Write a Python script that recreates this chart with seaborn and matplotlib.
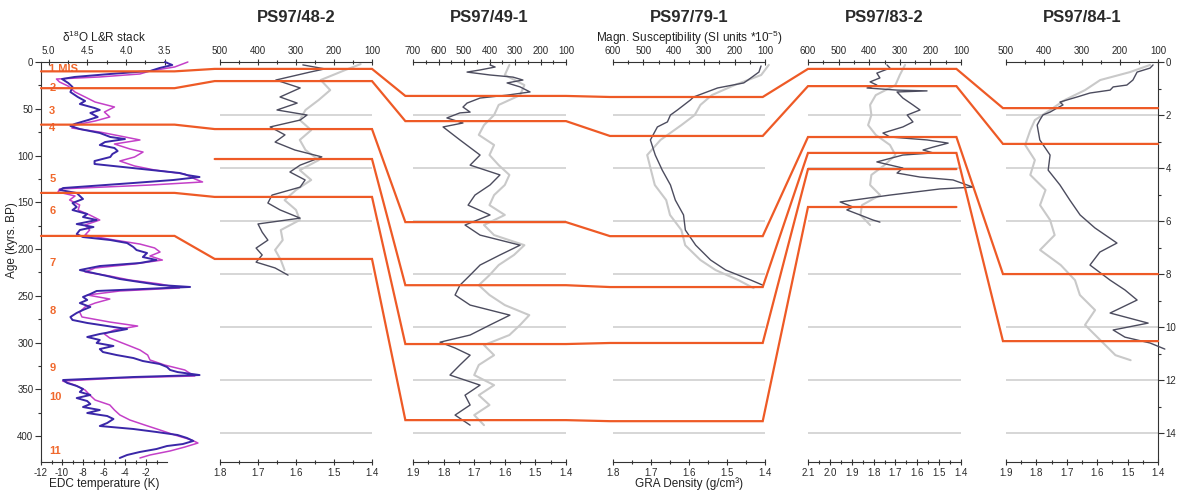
import matplotlib
matplotlib.use("Agg")
import matplotlib.pyplot as plt
import matplotlib.transforms as mtransforms
from matplotlib.lines import Line2D
from matplotlib.ticker import FixedLocator, FormatStrFormatter
import seaborn as sns

# ---------------------------------------------------------------------------
# EDC temperature anomaly (K) and LR04 benthic d18O stack against age (kyr BP)
# ---------------------------------------------------------------------------
edc_age = [0.0, 3.2, 6.4, 9.6, 12.8, 16.0, 18.2, 22.5, 26.7, 32.1,
           37.4, 41.7, 44.9, 49.2, 51.3, 54.5, 58.8, 62.0, 66.3, 68.4,
           71.7, 75.9, 80.2, 82.4, 85.6, 88.8, 92.0, 95.2, 98.4, 101.6,
           105.9, 109.1, 112.3, 115.5, 118.7, 120.9, 123.0, 126.2, 129.4, 134.8,
           136.9, 140.1, 143.3, 146.5, 150.8, 155.1, 158.3, 162.6, 165.8, 169.0,
           173.3, 176.5, 179.7, 184.0, 187.2, 190.4, 193.6, 197.9, 201.1, 204.3,
           208.6, 211.8, 215.0, 218.2, 222.5, 225.7, 228.9, 232.1, 235.3, 238.5,
           240.6, 242.8, 244.9, 248.1, 251.3, 254.5, 257.8, 262.0, 265.2, 268.4,
           272.7, 275.9, 279.1, 282.4, 285.6, 287.7, 290.9, 294.1, 297.3, 300.5,
           303.7, 307.0, 310.2, 313.4, 316.6, 319.8, 323.0, 326.2, 329.4, 331.6,
           334.8, 336.9, 340.1, 343.3, 346.5, 349.7, 352.9, 356.1, 359.4, 362.6,
           365.8, 369.0, 372.2, 375.4, 378.6, 381.8, 386.1, 389.3, 392.5, 395.7,
           398.9, 402.1, 405.3, 408.6, 410.7, 413.9, 417.1, 420.3, 423.5]
edc_temp = [-0.2, 0.5, -0.7, -1.6, -5.4, -8.8, -10.0, -9.4, -9.0, -9.2,
            -8.5, -7.8, -8.3, -6.9, -6.4, -7.3, -6.6, -7.5, -8.8, -9.2,
            -8.3, -6.4, -5.4, -4.0, -5.9, -6.4, -5.0, -4.7, -5.2, -5.4,
            -6.9, -6.9, -4.2, -1.6, 1.2, 1.9, 3.1, 0.6, -3.2, -9.9,
            -10.2, -8.6, -8.3, -8.0, -9.0, -8.6, -9.0, -7.6, -8.0, -6.7,
            -8.6, -7.0, -8.3, -8.6, -8.0, -5.4, -3.8, -3.2, -2.9, -1.9,
            -2.3, -1.0, -2.6, -6.4, -8.3, -7.0, -5.7, -4.5, -2.6, -0.7,
            2.2, -2.3, -6.7, -7.3, -8.0, -7.6, -8.3, -7.3, -8.0, -8.6,
            -9.2, -9.0, -7.6, -5.7, -3.8, -4.8, -6.4, -7.6, -6.4, -6.7,
            -5.1, -6.4, -6.1, -4.8, -3.2, -2.3, -0.7, 0.0, 0.3, 1.0,
            3.1, -3.2, -9.9, -9.5, -8.6, -8.0, -8.3, -7.3, -8.6, -7.6,
            -7.3, -8.0, -6.4, -7.6, -5.7, -5.1, -5.7, -6.4, -3.2, -1.0,
            1.0, 1.9, 2.5, 1.5, 0.0, -1.0, -2.6, -3.8, -4.5]

lr04_age = [0.0, 5.3, 9.6, 12.8, 16.0, 18.2, 21.4, 25.7, 32.1, 37.4,
            42.8, 48.1, 53.5, 58.8, 63.1, 67.4, 70.6, 74.9, 79.1, 83.4,
            87.7, 93.0, 96.3, 101.6, 105.9, 111.2, 115.5, 119.8, 125.1, 128.3,
            131.6, 135.8, 139.0, 143.3, 147.6, 152.9, 158.3, 163.6, 169.0, 174.3,
            179.7, 185.0, 190.4, 194.7, 198.9, 203.2, 207.5, 211.8, 216.0, 220.3,
            224.6, 228.9, 233.2, 237.4, 241.7, 244.9, 249.2, 253.5, 257.8, 262.0,
            267.4, 272.7, 278.1, 282.4, 286.6, 290.9, 295.2, 299.5, 303.7, 308.0,
            313.4, 318.7, 324.1, 329.4, 332.6, 335.8, 338.0, 341.2, 345.5, 350.8,
            356.1, 361.5, 366.8, 372.2, 377.5, 382.9, 388.2, 393.6, 398.9, 404.3,
            407.5, 411.8, 416.0, 420.3, 423.5]
lr04_d18o = [3.20, 3.37, 3.69, 3.82, 4.34, 4.90, 4.86, 4.75, 4.66, 4.53,
             4.40, 4.15, 4.28, 4.21, 4.40, 4.66, 4.70, 4.34, 4.08, 3.82,
             4.15, 3.95, 3.78, 3.89, 4.08, 3.89, 3.63, 3.24, 3.11, 3.01,
             3.69, 4.86, 4.88, 4.66, 4.73, 4.60, 4.62, 4.47, 4.34, 4.53,
             4.47, 4.53, 4.15, 3.82, 3.63, 3.56, 3.69, 3.53, 3.89, 4.40,
             4.53, 4.21, 3.95, 3.56, 3.31, 4.08, 4.50, 4.21, 4.40, 4.53,
             4.60, 4.57, 4.21, 3.85, 4.15, 4.28, 4.21, 4.08, 3.95, 3.82,
             3.72, 3.69, 3.50, 3.24, 3.18, 3.11, 4.08, 4.82, 4.66, 4.53,
             4.47, 4.40, 4.21, 4.15, 4.08, 3.95, 3.76, 3.56, 3.37, 3.15,
             3.07, 3.24, 3.43, 3.69, 3.82]

edc_ticks = [-12, -10, -8, -6, -4, -2]
edc_minor = [-11, -9, -7, -5, -3, -1]
d18o_ticks = [5.0, 4.5, 4.0, 3.5]
age_ticks = [0, 50, 100, 150, 200, 250, 300, 350, 400]

mis_labels = ["1 MIS", "2", "3", "4", "5", "6", "7", "8", "9", "10", "11"]
mis_label_age = [7.5, 28, 52, 71, 125, 159, 215, 266, 327, 358, 416]

# ---------------------------------------------------------------------------
# Core logs: magnetic susceptibility (SI*10^-5) and GRA density (g/cm3) vs depth (m)
# ---------------------------------------------------------------------------
ps48_ms_depth = [0.11, 0.26, 0.38, 0.68, 0.98, 1.32, 1.55, 1.81, 2.0, 2.19, 2.45, 2.75,
                 3.02, 3.32, 3.58, 3.89, 4.15, 4.45, 4.72, 5.02, 5.32, 5.58, 5.89, 6.11,
                 6.42, 6.72, 7.02, 7.28, 7.55, 7.77, 8.04]
ps48_ms = [282, 224, 263, 353, 289, 342, 297, 350, 271, 289, 368, 329, 355, 303, 232,
           289, 316, 276, 289, 363, 374, 342, 289, 400, 389, 374, 405, 389, 405, 355, 321]
ps48_gra_depth = [0.08, 0.30, 0.68, 1.06, 1.43, 1.81, 2.19, 2.57, 2.94, 3.32, 3.70,
                  4.08, 4.45, 4.83, 5.21, 5.58, 5.96, 6.34, 6.72, 7.09, 7.47, 7.85]
ps48_gra = [1.43, 1.47, 1.535, 1.51, 1.54, 1.575, 1.59, 1.56, 1.59, 1.575, 1.54,
            1.59, 1.56, 1.60, 1.63, 1.60, 1.59, 1.64, 1.635, 1.655, 1.64, 1.63]
ps48_ms_ticks = [500, 400, 300, 200, 100]
ps48_gra_ticks = [1.8, 1.7, 1.6, 1.5, 1.4]

ps49_ms_depth = [0.11, 0.19, 0.30, 0.38, 0.49, 0.57, 0.68, 0.79, 0.94, 1.13,
                 1.25, 1.36, 1.55, 1.70, 1.89, 1.92, 2.11, 2.30, 2.45, 2.94,
                 3.51, 3.89, 4.26, 4.64, 5.02, 5.40, 5.77, 6.15, 6.53, 6.91,
                 7.28, 7.66, 8.04, 8.42, 8.79, 9.17, 9.55, 9.92, 10.30, 10.57,
                 10.79, 11.06, 11.43, 11.81, 12.19, 12.57, 12.94, 13.32, 13.70]
ps49_ms = [398, 378, 437, 488, 398, 308, 269, 331, 280, 241,
           331, 437, 488, 504, 476, 516, 567, 504, 582, 516,
           437, 476, 359, 398, 457, 484, 398, 496, 437, 280,
           359, 437, 476, 516, 535, 476, 320, 398, 476, 594,
           535, 476, 516, 555, 437, 496, 476, 535, 476]
ps49_gra_depth = [0.11, 0.49, 0.87, 1.25, 1.62, 2.0, 2.38, 2.75, 3.13, 3.51,
                  3.89, 4.26, 4.64, 5.02, 5.40, 5.77, 6.15, 6.53, 6.91, 7.28,
                  7.66, 8.04, 8.42, 8.79, 9.17, 9.55, 9.92, 10.30, 10.68, 11.06,
                  11.43, 11.81, 12.19, 12.57, 12.94, 13.32, 13.70]
ps49_gra = [1.585, 1.60, 1.536, 1.55, 1.62, 1.635, 1.668, 1.685, 1.635, 1.65,
            1.62, 1.585, 1.60, 1.635, 1.65, 1.60, 1.668, 1.635, 1.536, 1.57,
            1.62, 1.65, 1.685, 1.65, 1.60, 1.52, 1.55, 1.585, 1.668, 1.635,
            1.685, 1.70, 1.635, 1.685, 1.65, 1.70, 1.668]
ps49_ms_ticks = [700, 600, 500, 400, 300, 200, 100]
ps49_gra_ticks = [1.9, 1.8, 1.7, 1.6, 1.5, 1.4]

ps79_ms_depth = [0.15, 0.38, 0.68, 0.79, 0.98, 1.32, 1.43, 1.81, 2.0, 2.26, 2.45, 2.94,
                 3.51, 4.08, 4.64, 5.21, 5.77, 6.34, 6.91, 7.47, 7.85, 8.23, 8.42]
ps79_ms = [113, 120, 156, 170, 256, 335, 345, 388, 411, 421, 454, 477,
           461, 438, 411, 395, 368, 362, 328, 279, 229, 146, 107]
ps79_gra_depth = [0.11, 0.49, 0.87, 1.25, 1.62, 2.0, 2.38, 2.94, 3.51, 4.08,
                  4.64, 5.21, 5.77, 6.34, 6.91, 7.47, 7.85, 8.23, 8.53]
ps79_gra = [1.39, 1.41, 1.48, 1.54, 1.57, 1.585, 1.62, 1.675, 1.71, 1.70,
            1.69, 1.66, 1.65, 1.62, 1.61, 1.57, 1.53, 1.47, 1.43]
ps79_ms_ticks = [600, 500, 400, 300, 200, 100]
ps79_gra_ticks = [1.8, 1.7, 1.6, 1.5, 1.4]

ps83_ms_depth = [0.11, 0.23, 0.42, 0.60, 0.75, 0.87, 0.98, 1.06, 1.09, 1.13,
                 1.36, 1.62, 1.81, 2.0, 2.26, 2.45, 2.68, 2.83, 2.94, 3.06,
                 3.21, 3.32, 3.43, 3.51, 3.77, 4.0, 4.19, 4.34, 4.45, 4.72,
                 4.79, 5.02, 5.28, 5.47, 5.58, 5.77, 5.96, 6.04]
ps83_ms = [342, 332, 375, 365, 397, 375, 407, 309, 211, 309,
           290, 257, 234, 276, 257, 290, 355, 332, 211, 142,
           191, 224, 191, 290, 375, 290, 309, 234, 126, 61,
           169, 332, 495, 453, 473, 430, 388, 365]
ps83_gra_depth = [0.11, 0.49, 0.87, 1.25, 1.62, 2.0, 2.38, 2.75, 3.13, 3.51,
                  3.89, 4.26, 4.64, 5.02, 5.40, 5.77, 6.15]
ps83_gra = [1.656, 1.68, 1.70, 1.79, 1.816, 1.81, 1.825, 1.79, 1.725, 1.70,
            1.75, 1.81, 1.816, 1.77, 1.853, 1.86, 1.816]
ps83_ms_ticks = [600, 500, 400, 300, 200, 100]
ps83_gra_ticks = [2.1, 2.0, 1.9, 1.8, 1.7, 1.6, 1.5, 1.4]

ps84_ms_depth = [0.11, 0.23, 0.38, 0.68, 0.87, 0.94, 1.06, 1.17, 1.32, 1.43,
                 1.51, 1.62, 1.74, 1.89, 2.0, 2.19, 2.38, 2.94, 3.51, 4.08,
                 4.64, 5.21, 5.77, 6.26, 6.83, 7.17, 7.66, 8.23, 8.60, 8.98,
                 9.47, 9.85, 10.11, 10.38, 10.60, 10.83]
ps84_ms = [113, 121, 155, 166, 182, 218, 226, 279, 313, 339,
           358, 350, 366, 384, 403, 411, 418, 411, 384, 389,
           358, 332, 305, 266, 208, 253, 279, 226, 187, 155,
           226, 126, 218, 187, 121, 82]
ps84_gra_depth = [0.11, 0.38, 0.68, 1.06, 1.43, 1.81, 2.19, 2.57, 3.13, 3.70, 4.26, 4.83,
                  5.40, 5.96, 6.53, 7.09, 7.66, 8.23, 8.79, 9.36, 9.92, 10.49, 11.06, 11.25]
ps84_gra = [1.426, 1.492, 1.59, 1.64, 1.706, 1.755, 1.805, 1.82, 1.837, 1.805, 1.82, 1.77,
            1.788, 1.755, 1.74, 1.788, 1.72, 1.673, 1.657, 1.607, 1.64, 1.59, 1.54, 1.49]
ps84_ms_ticks = [500, 400, 300, 200, 100]
ps84_gra_ticks = [1.9, 1.8, 1.7, 1.6, 1.5, 1.4]

depth_ticks = [0, 2, 4, 6, 8, 10, 12, 14]
section_depths = [2, 4, 6, 8, 10, 12, 14]

# Stratigraphic tie points (MIS boundary age in kyr, then depth in each core, m)
mis_boundary_age = [10, 28, 67, None, 140, 186]
tie_ps48 = [0.26, 0.72, 2.53, 3.66, 5.09, 7.43]
tie_ps49 = [1.28, 2.23, 6.04, 8.42, 10.64, 13.51]
tie_ps79 = [1.32, 2.79, 6.57, 8.49, 10.60, 13.55]
tie_ps83 = [0.26, 0.91, 2.83, 3.43, 4.04, 5.47]
tie_ps84 = [1.74, 3.09, 8.00, 10.53, None, None]

cores = [
    dict(name="PS97/48-2", ms_depth=ps48_ms_depth, ms=ps48_ms, gra_depth=ps48_gra_depth,
         gra=ps48_gra, ms_ticks=ps48_ms_ticks, gra_ticks=ps48_gra_ticks),
    dict(name="PS97/49-1", ms_depth=ps49_ms_depth, ms=ps49_ms, gra_depth=ps49_gra_depth,
         gra=ps49_gra, ms_ticks=ps49_ms_ticks, gra_ticks=ps49_gra_ticks),
    dict(name="PS97/79-1", ms_depth=ps79_ms_depth, ms=ps79_ms, gra_depth=ps79_gra_depth,
         gra=ps79_gra, ms_ticks=ps79_ms_ticks, gra_ticks=ps79_gra_ticks),
    dict(name="PS97/83-2", ms_depth=ps83_ms_depth, ms=ps83_ms, gra_depth=ps83_gra_depth,
         gra=ps83_gra, ms_ticks=ps83_ms_ticks, gra_ticks=ps83_gra_ticks),
    dict(name="PS97/84-1", ms_depth=ps84_ms_depth, ms=ps84_ms, gra_depth=ps84_gra_depth,
         gra=ps84_gra, ms_ticks=ps84_ms_ticks, gra_ticks=ps84_gra_ticks),
]

# ---------------------------------------------------------------------------
# Style
# ---------------------------------------------------------------------------
sns.set_theme(style="white")
plt.rcParams["font.family"] = ["Liberation Sans", "DejaVu Sans"]
plt.rcParams["mathtext.fontset"] = "custom"
plt.rcParams["mathtext.rm"] = "Liberation Sans"
plt.rcParams["mathtext.it"] = "Liberation Sans:italic"
plt.rcParams["mathtext.bf"] = "Liberation Sans:bold"
plt.rcParams["axes.unicode_minus"] = False

ORANGE = "#ee5a26"
MIS_TEXT = "#f0682c"
BLUE = "#3a27a8"
MAGENTA = "#c440c8"
DARK = "#4c4c5e"
LIGHT = "#c9c9c9"
SECTION = "#d0d0d0"
INK = "#333333"

FIG_W, FIG_H = 1177, 492
PLOT_TOP, PLOT_BOTTOM = 62, 462
LEFT_COLUMN = (41, 167)
CORE_COLUMNS = [(220, 372), (413, 566), (613, 765), (808, 961), (1006, 1158)]
TIE_SPANS = [(0.0, 1.06), (-0.035, 1.0), (-0.05, 1.0), (-0.02, 0.985), (0.0, 0.97), (-0.02, 1.0)]


def column_rect(x0, x1):
    return [x0 / FIG_W, 1 - PLOT_BOTTOM / FIG_H,
            (x1 - x0) / FIG_W, (PLOT_BOTTOM - PLOT_TOP) / FIG_H]


def midpoints(ticks):
    return [(a + b) / 2 for a, b in zip(ticks[:-1], ticks[1:])]


def dress_x(ax, side, majors, minors, fmt):
    ax.xaxis.set_major_locator(FixedLocator(majors))
    ax.xaxis.set_minor_locator(FixedLocator(minors))
    ax.xaxis.set_major_formatter(FormatStrFormatter(fmt))
    top = side == "top"
    ax.tick_params(axis="x", which="both", direction="inout", color=INK, width=0.8,
                   top=top, bottom=not top, labeltop=top, labelbottom=not top,
                   labelsize=7, labelcolor="#2a2a2a", pad=1.5)
    ax.tick_params(axis="x", which="major", length=5)
    ax.tick_params(axis="x", which="minor", length=2.5)
    for name, sp in ax.spines.items():
        sp.set_visible(name == side)
        sp.set_color(INK)
        sp.set_linewidth(0.8)
    ax.set_xlabel("")
    ax.set_ylabel("")


def dress_y(ax, side, majors, minors):
    ax.yaxis.set_major_locator(FixedLocator(majors))
    ax.yaxis.set_minor_locator(FixedLocator(minors))
    ax.yaxis.set_major_formatter(FormatStrFormatter("%d"))
    left = side == "left"
    ax.tick_params(axis="y", which="both", direction="out", color=INK, width=0.8,
                   left=left, right=not left, labelleft=left, labelright=not left,
                   labelsize=7, labelcolor="#2a2a2a", pad=1.5)
    ax.tick_params(axis="y", which="major", length=4)
    ax.tick_params(axis="y", which="minor", length=2.5)
    ax.spines[side].set_visible(True)
    ax.spines[side].set_color(INK)
    ax.spines[side].set_linewidth(0.8)


fig = plt.figure(figsize=(FIG_W / 100, FIG_H / 100), dpi=100)
fig.patch.set_facecolor("white")

# ---------------------------------------------------------------------------
# Climate reference panel
# ---------------------------------------------------------------------------
ax0 = fig.add_axes(column_rect(*LEFT_COLUMN))
ax0t = ax0.twiny()
sns.lineplot(x=lr04_d18o, y=lr04_age, ax=ax0t, sort=False, estimator=None,
             color=MAGENTA, linewidth=1.1, clip_on=False)
sns.lineplot(x=edc_temp, y=edc_age, ax=ax0, sort=False, estimator=None,
             color=BLUE, linewidth=1.4, clip_on=False)
ax0t.set_zorder(ax0.get_zorder() - 1)
ax0.patch.set_visible(False)

ax0.set_xlim(-12, 0)
ax0t.set_xlim(5.10, 3.47)
ax0.set_ylim(427.8, 0)
dress_x(ax0, "bottom", edc_ticks, edc_minor, "%d")
dress_x(ax0t, "top", d18o_ticks, midpoints(d18o_ticks), "%.1f")
dress_y(ax0, "left", age_ticks, midpoints(age_ticks))

ax0.text(0.5, 1.0625, "δ$^{18}$O L&R stack", transform=ax0.transAxes,
         ha="center", va="center", fontsize=8.5, color="#222222")
ax0.text(0.5, -0.055, "EDC temperature (K)", transform=ax0.transAxes,
         ha="center", va="center", fontsize=8.5, color="#222222")
ax0.text(-0.23, 0.555, "Age (kyrs. BP)", transform=ax0.transAxes, rotation=90,
         ha="center", va="center", fontsize=8.5, color="#222222")

mis_tr = mtransforms.blended_transform_factory(ax0.transAxes, ax0.transData)
for label, age in zip(mis_labels, mis_label_age):
    ax0.text(0.065, age, label, transform=mis_tr, ha="left", va="center",
             fontsize=8, fontweight="bold", color=MIS_TEXT, zorder=6)

# ---------------------------------------------------------------------------
# Core panels
# ---------------------------------------------------------------------------
core_axes = []
for k, core in enumerate(cores):
    ax = fig.add_axes(column_rect(*CORE_COLUMNS[k]))
    axt = ax.twiny()
    for d in section_depths:
        ax.axhline(d, color=SECTION, linewidth=1.2, zorder=0.5)
    sns.lineplot(x=core["gra"], y=core["gra_depth"], ax=ax, sort=False, estimator=None,
                 color=LIGHT, linewidth=1.5, clip_on=False)
    sns.lineplot(x=core["ms"], y=core["ms_depth"], ax=axt, sort=False, estimator=None,
                 color=DARK, linewidth=1.0, clip_on=False)
    ax.set_xlim(core["gra_ticks"][0], core["gra_ticks"][-1])
    axt.set_xlim(core["ms_ticks"][0], core["ms_ticks"][-1])
    ax.set_ylim(15.09, 0)
    dress_x(ax, "bottom", core["gra_ticks"], midpoints(core["gra_ticks"]), "%.1f")
    dress_x(axt, "top", core["ms_ticks"], midpoints(core["ms_ticks"]), "%d")
    ax.tick_params(axis="y", left=False, right=False, labelleft=False, labelright=False)

    ax.text(0.5, 1.1125, core["name"], transform=ax.transAxes, ha="center", va="center",
            fontsize=12, fontweight="bold", color="#2a2a2a")
    core_axes.append(ax)

# depth scale on the right of the last core
dress_y(core_axes[-1], "right", depth_ticks, midpoints(depth_ticks))

core_axes[2].text(0.5, 1.06, "Magn. Susceptibility (SI units *10$^{-5}$)",
                  transform=core_axes[2].transAxes, ha="center", va="center",
                  fontsize=8.5, color="#222222")
core_axes[2].text(0.5, -0.055, "GRA Density (g/cm³)",
                  transform=core_axes[2].transAxes, ha="center", va="center",
                  fontsize=8.5, color="#222222")

# ---------------------------------------------------------------------------
# Tie lines linking MIS boundaries through the cores
# ---------------------------------------------------------------------------
tie_axes = [ax0] + core_axes
tie_values = [mis_boundary_age, tie_ps48, tie_ps49, tie_ps79, tie_ps83, tie_ps84]
to_fig = fig.transFigure.inverted()
for i in range(len(tie_ps48)):
    xs, ys = [], []
    for ax, vals, (s0, s1) in zip(tie_axes, tie_values, TIE_SPANS):
        v = vals[i]
        if v is None:
            continue
        tr = mtransforms.blended_transform_factory(ax.transAxes, ax.transData)
        for s in (s0, s1):
            fx, fy = to_fig.transform(tr.transform((s, v)))
            xs.append(fx)
            ys.append(fy)
    fig.add_artist(Line2D(xs, ys, transform=fig.transFigure, color=ORANGE,
                          linewidth=1.6, zorder=5, solid_joinstyle="miter"))

fig.savefig("out.png", dpi=100, facecolor="white")
